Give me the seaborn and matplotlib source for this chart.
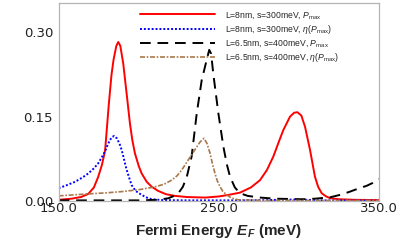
import matplotlib
matplotlib.use('Agg')
import matplotlib.pyplot as plt
import seaborn as sns
from matplotlib import font_manager
from matplotlib.ticker import FormatStrFormatter

# L=8nm, s=300meV, P_max (red solid)
red_e = [150, 158, 164, 168.5, 172, 174.7, 177, 179, 181.3, 183, 184.3, 186, 187.2, 188.5,
         190.3, 192.4, 194.5, 196, 197.6, 200, 201.8, 205, 208, 212, 217, 222.6, 230, 241.4,
         250, 255.9, 263.2, 270, 275.7, 280, 284, 287, 290.2, 294.4, 297, 299, 301.5, 303.8,
         306.9, 310, 312, 314.2, 317, 319.4, 325, 335, 350]
red_p = [0.002, 0.004, 0.007, 0.0125, 0.024, 0.043, 0.064, 0.090, 0.172, 0.225, 0.252, 0.276, 0.283, 0.276,
         0.245, 0.192, 0.138, 0.108, 0.085, 0.062, 0.049, 0.034, 0.0255, 0.018, 0.012, 0.009, 0.007, 0.006,
         0.008, 0.0107, 0.0148, 0.024, 0.037, 0.055, 0.079, 0.102, 0.126, 0.150, 0.157, 0.158, 0.152, 0.132,
         0.091, 0.043, 0.025, 0.0137, 0.008, 0.005, 0.003, 0.002, 0.0015]

# L=8nm, s=300meV, eta(P_max) (blue dotted)
blue_e = [150, 155, 160.2, 165, 168.5, 172, 174.7, 177, 178.9, 180.5, 182, 183.5, 184.7, 186.5,
          188.3, 189.3, 190.3, 191.4, 192.5, 194.5, 195.6, 198, 201.8, 205, 208, 215, 230, 260,
          280, 295, 305, 315, 350]
blue_p = [0.0226, 0.028, 0.034, 0.042, 0.049, 0.058, 0.067, 0.078, 0.088, 0.099, 0.1085, 0.114, 0.1157, 0.111,
          0.0996, 0.091, 0.080, 0.067, 0.055, 0.037, 0.028, 0.018, 0.0107, 0.006, 0.003, 0.0015, 0.001, 0.001,
          0.0015, 0.0025, 0.002, 0.001, 0.0005]

# L=6.5nm, s=400meV, P_max (black dashed)
black_e = [150, 200, 212, 218.5, 222, 224.7, 227.5, 230, 233, 236.2, 239.3, 242.4, 244, 245.2,
           246.5, 249.7, 252.8, 255, 257, 260, 263.2, 268, 275.7, 285, 294.4, 302, 310, 319.4,
           326, 331.9, 337, 342.3, 346, 350]
black_p = [0.001, 0.001, 0.002, 0.0048, 0.009, 0.0137, 0.025, 0.043, 0.079, 0.156, 0.215, 0.251, 0.269, 0.262,
           0.227, 0.156, 0.097, 0.065, 0.043, 0.024, 0.0137, 0.009, 0.006, 0.004, 0.0035, 0.003, 0.004, 0.0065,
           0.011, 0.0166, 0.022, 0.027, 0.032, 0.039]

# L=6.5nm, s=400meV, eta(P_max) (brown dash-dot)
brown_e = [150, 160, 168.5, 180, 189.3, 200, 210.1, 216, 220.5, 224, 226.8, 230.9, 233, 235.2,
           238.3, 240.7, 242.5, 244.5, 246, 247.6, 249, 250.7, 252.5, 254.9, 258, 262, 280, 350]
brown_p = [0.009, 0.011, 0.0125, 0.0145, 0.0166, 0.020, 0.025, 0.030, 0.037, 0.045, 0.055, 0.073, 0.082, 0.092,
           0.105, 0.1115, 0.103, 0.085, 0.066, 0.049, 0.036, 0.0255, 0.017, 0.0107, 0.005, 0.002, 0.001, 0.0008]

labels = [r'L=8nm, s=300meV, $P_{\rm max}$',
          r'L=8nm, s=300meV, $\eta(P_{\rm max})$',
          r'L=6.5nm, s=400meV, $P_{\rm max}$',
          r'L=6.5nm, s=400meV, $\eta(P_{\rm max})$']

# narrow face for the legend if it is there
names = {f.name for f in font_manager.fontManager.ttflist}
leg_font = 'Liberation Sans Narrow' if 'Liberation Sans Narrow' in names else 'Liberation Sans'
leg_size = 6.6 if leg_font == 'Liberation Sans Narrow' else 6.2

sns.set_style('white')
plt.rcParams['font.family'] = ['DejaVu Sans']
plt.rcParams['mathtext.fontset'] = 'custom'
plt.rcParams['mathtext.rm'] = leg_font
plt.rcParams['mathtext.it'] = leg_font + ':italic'
plt.rcParams['mathtext.bf'] = 'Liberation Sans:bold:italic'

fig = plt.figure(figsize=(3.99, 2.49), dpi=100)
ax = fig.add_axes([0.147, 0.193, 0.803, 0.794])

sns.lineplot(x=red_e, y=red_p, ax=ax, color='#ff0000', linewidth=1.4, label=labels[0])
sns.lineplot(x=blue_e, y=blue_p, ax=ax, color='#0000ff', linewidth=1.4,
             linestyle=(0, (1, 1)), label=labels[1])
sns.lineplot(x=black_e, y=black_p, ax=ax, color='black', linewidth=1.4,
             linestyle=(0, (5.5, 3.5)), label=labels[2])
sns.lineplot(x=brown_e, y=brown_p, ax=ax, color='#a8784a', linewidth=1.2,
             linestyle=(0, (3, 1, 1, 1)), label=labels[3])

ax.set_xlim(150, 350)
ax.set_ylim(0, 0.352)
ax.set_xticks([150, 250, 350])
ax.set_yticks([0, 0.15, 0.30])
ax.xaxis.set_major_formatter(FormatStrFormatter('%.1f'))
ax.yaxis.set_major_formatter(FormatStrFormatter('%.2f'))
ax.tick_params(axis='x', length=0, labelsize=9.5, pad=1, colors='#222222')
ax.tick_params(axis='y', length=3, width=0.8, labelsize=9.5, pad=1, colors='#222222')
ax.tick_params(axis='y', color='#555555')

for sp in ax.spines.values():
    sp.set_color('#b5b5b5')
    sp.set_linewidth(0.9)

ax.set_xlabel(r'Fermi Energy $\mathbf{E_F}$ (meV)', fontsize=11, fontweight='bold',
              family='Liberation Sans', labelpad=5)

fs_px = leg_size * 100 / 72
ax.legend(loc='upper left', bbox_to_anchor=(0.254, 0.967), frameon=False,
          prop={'family': leg_font, 'size': leg_size}, handlelength=75 / fs_px,
          handletextpad=10 / fs_px, labelspacing=0.25, borderpad=0, borderaxespad=0)

fig.savefig('out.png', dpi=100)
